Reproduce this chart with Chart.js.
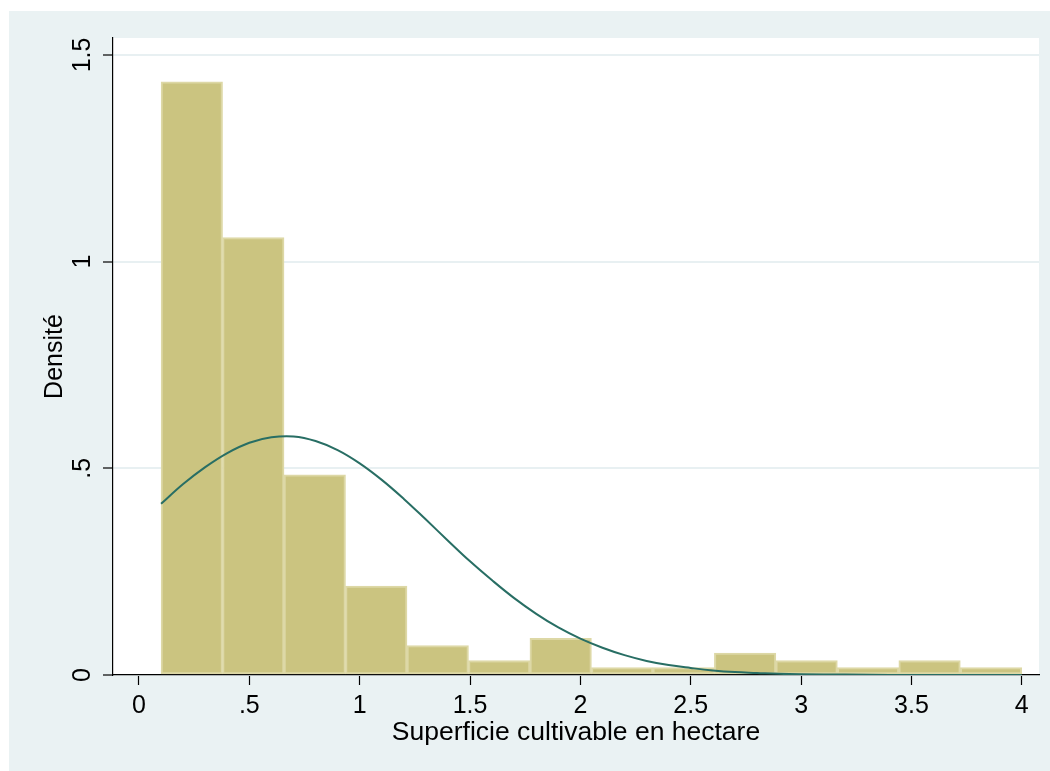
<!DOCTYPE html>
<html>
<head>
<meta charset="utf-8">
<script src="https://cdn.jsdelivr.net/npm/chart.js@4/dist/chart.umd.min.js"></script>
<style>
  body { margin: 0; background: #fff; }
  canvas { display: block; }
</style>
</head>
<body>
<canvas id="hist_chart" width="1050" height="771"></canvas>
<script>
// Histogramme de la superficie cultivable (densité) + courbe normale
const binLow = 0.1;
const binHigh = 4.0;
const densite = [1.435, 1.058, 0.484, 0.215, 0.071, 0.035, 0.089, 0.018, 0.018, 0.053, 0.035, 0.018, 0.035, 0.018];

// courbe normale relevée tous les 0.1 ha
const courbeX = [0.1, 0.2, 0.3, 0.4, 0.5, 0.6, 0.7, 0.8, 0.9, 1.0,
                 1.1, 1.2, 1.3, 1.4, 1.5, 1.6, 1.7, 1.8, 1.9, 2.0,
                 2.1, 2.2, 2.3, 2.4, 2.5, 2.6, 2.7, 2.8, 2.9, 3.0,
                 3.2, 3.4, 3.6, 3.8, 4.0];
const courbeY = [0.414, 0.462, 0.503, 0.537, 0.562, 0.575, 0.577, 0.566, 0.544, 0.512,
                 0.472, 0.426, 0.376, 0.325, 0.275, 0.229, 0.186, 0.148, 0.115, 0.088,
                 0.066, 0.048, 0.034, 0.024, 0.017, 0.011, 0.007, 0.005, 0.003, 0.002,
                 0.001, 0.0003, 0.0001, 0, 0];

const xTicks = [0, 0.5, 1, 1.5, 2, 2.5, 3, 3.5, 4];
const yTicks = [0, 0.5, 1, 1.5];

const binWidth = (binHigh - binLow) / densite.length;
const barData = densite.map((d, i) => ({x: binLow + (i + 0.5) * binWidth, y: d}));
const lineData = courbeX.map((x, i) => ({x: x, y: courbeY[i]}));

// format Stata : ".5" au lieu de "0.5"
const stataLabel = v => String(v).replace(/^0\./, '.');

const famille = '"Liberation Sans", Arial, sans-serif';
const police = {family: famille, size: 25};

const fond = {
    id: 'fond',
    beforeDraw(chart) {
        const {ctx, chartArea: a, width, height} = chart;
        ctx.save();
        ctx.fillStyle = '#ffffff';
        ctx.fillRect(0, 0, width, height);
        ctx.fillStyle = '#eaf2f3';
        ctx.fillRect(9, 11, width - 9, height - 11);
        ctx.fillStyle = '#ffffff';
        ctx.fillRect(a.left, a.top, a.right - a.left, a.bottom - a.top);
        ctx.restore();
    }
};

const ctxHist = document.getElementById('hist_chart').getContext('2d');
const histChart = new Chart(ctxHist, {
    type: 'bar',
    data: {
        datasets: [{
            type: 'line',
            data: lineData,
            borderColor: 'rgb(40,110,100)',
            borderWidth: 2,
            pointRadius: 0,
            tension: 0.4,
            fill: false,
            order: 0
        }, {
            type: 'bar',
            data: barData,
            backgroundColor: 'rgb(203,196,128)',
            borderColor: 'rgb(221,216,166)',
            borderWidth: 2,
            borderSkipped: false,
            barPercentage: 1,
            categoryPercentage: 1,
            order: 1
        }]
    },
    options: {
        responsive: false,
        animation: false,
        layout: {padding: {top: 38, right: 11, left: 0, bottom: 0}},
        plugins: {
            legend: {display: false},
            tooltip: {enabled: false}
        },
        scales: {
            x: {
                type: 'linear',
                min: -0.1178,
                max: 4.078,
                offset: false,
                afterBuildTicks: s => { s.ticks = xTicks.map(v => ({value: v})); },
                afterFit: s => { s.height = 96; },
                ticks: {
                    font: police,
                    color: '#000',
                    padding: 6,
                    maxRotation: 0,
                    autoSkip: false,
                    callback: v => stataLabel(v)
                },
                grid: {
                    offset: false,
                    drawOnChartArea: false,
                    tickColor: '#000',
                    tickLength: 10,
                    tickWidth: 1.2
                },
                border: {color: '#000', width: 1.2},
                title: {
                    display: true,
                    text: 'Superficie cultivable en hectare',
                    font: {family: famille, size: 26.5},
                    color: '#000',
                    padding: {top: 0, bottom: 22}
                }
            },
            y: {
                min: 0,
                max: 1.541,
                afterBuildTicks: s => { s.ticks = yTicks.map(v => ({value: v})); },
                afterFit: s => { s.width = 113; },
                ticks: {
                    font: police,
                    color: '#000',
                    padding: 3,
                    minRotation: 90,
                    maxRotation: 90,
                    crossAlign: 'center',
                    autoSkip: false,
                    callback: v => stataLabel(v)
                },
                grid: {
                    color: '#e8f0f2',
                    lineWidth: 2,
                    tickColor: '#000',
                    tickLength: 10,
                    tickWidth: 1.2
                },
                border: {color: '#000', width: 1.2},
                title: {
                    display: true,
                    text: 'Densité',
                    font: police,
                    color: '#000',
                    padding: {top: 40, bottom: 0}
                }
            }
        }
    },
    plugins: [fond]
});
</script>
</body>
</html>
